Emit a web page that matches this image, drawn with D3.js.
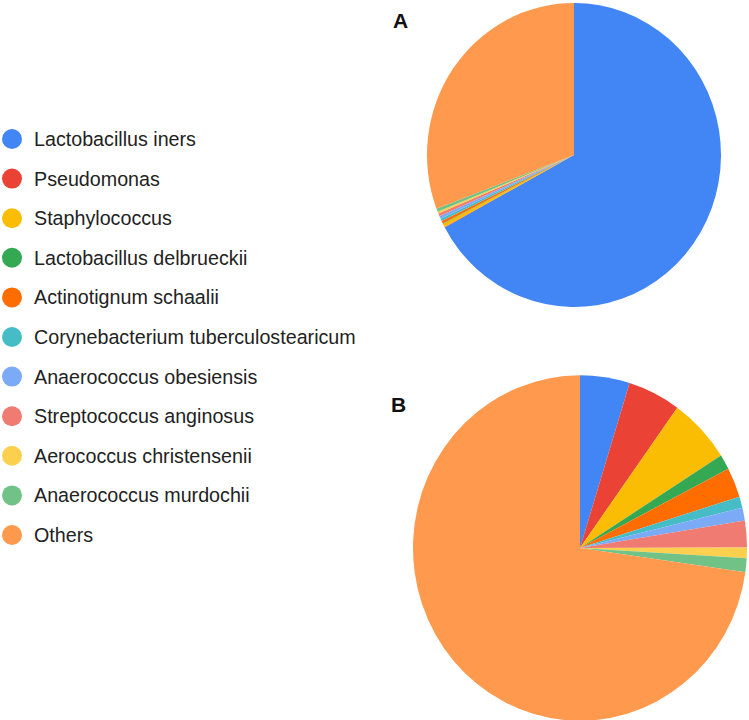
<!DOCTYPE html>
<html>
<head>
<meta charset="utf-8">
<script src="https://cdn.jsdelivr.net/npm/d3@7"></script>
<style>
  body { margin: 0; background: #fff; }
  svg { display: block; font-family: Arial, "Liberation Sans", sans-serif; }
</style>
</head>
<body>
<script>
// Categories (legend order = slice order, clockwise from 12 o'clock)
var taxa = [
  "Lactobacillus iners",
  "Pseudomonas",
  "Staphylococcus",
  "Lactobacillus delbrueckii",
  "Actinotignum schaalii",
  "Corynebacterium tuberculostearicum",
  "Anaerococcus obesiensis",
  "Streptococcus anginosus",
  "Aerococcus christensenii",
  "Anaerococcus murdochii",
  "Others"
];

// Relative abundance (%) per panel
var valuesA = [67.1, 0.05, 0.35, 0.05, 0.3, 0.25, 0.3, 0.3, 0.2, 0.35, 30.75];
var valuesB = [4.8, 5.1, 6.1, 1.4, 2.8, 1.05, 1.2, 2.5, 1.0, 1.3, 72.75];

var palette = ["#4285f4", "#ea4335", "#fbbc04", "#34a853", "#ff6d01", "#46bdc6",
               "#7baaf7", "#f07b72", "#fcd04f", "#71c287", "#ff994d"];

var width = 749, height = 720;

var color = d3.scaleOrdinal()
    .domain(taxa)
    .range(palette);

var svg = d3.select("body")
    .append("svg")
    .attr("width", width)
    .attr("height", height);

// Legend
var legend = svg.append("g")
    .attr("transform", "translate(12,139)");

var item = legend.selectAll("g")
    .data(taxa)
    .enter()
    .append("g")
    .attr("transform", (d, i) => `translate(0,${i * 39.6})`);

item.append("circle")
    .attr("r", 10)
    .attr("fill", d => color(d));

item.append("text")
    .attr("x", 22)
    .attr("y", 7)
    .style("font-size", "19.7px")
    .attr("fill", "#222")
    .text(d => d);

// Pie layout
var pie = d3.pie()
    .sort(null)
    .value(d => d.value);

function drawPie(values, cx, cy, r, label, lx, ly) {
  var data = taxa.map((t, i) => ({ name: t, value: values[i] }));
  var arc = d3.arc().innerRadius(0).outerRadius(r);

  // source image is slightly stretched vertically
  var g = svg.append("g")
      .attr("transform", `translate(${cx},${cy}) scale(1,1.034)`);

  g.selectAll("path")
      .data(pie(data))
      .enter()
      .append("path")
      .attr("d", arc)
      .attr("fill", d => color(d.data.name));

  svg.append("text")
      .attr("x", lx)
      .attr("y", ly)
      .style("font-size", "21px")
      .style("font-weight", "bold")
      .attr("fill", "#111")
      .text(label);
}

drawPie(valuesA, 574, 155, 147, "A", 393, 28);
drawPie(valuesB, 580, 548, 167, "B", 391, 412);
</script>
</body>
</html>
